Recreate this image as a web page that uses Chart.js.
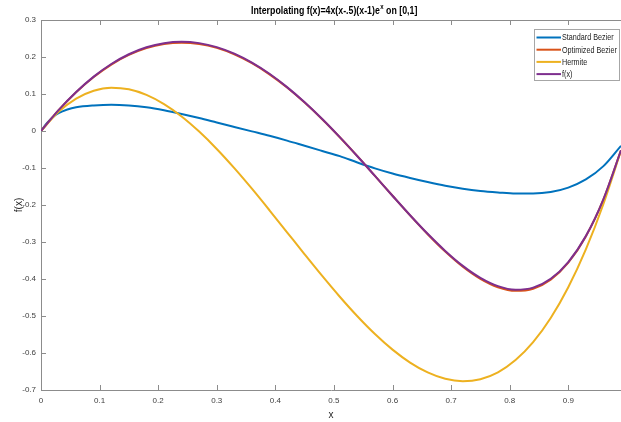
<!DOCTYPE html>
<html><head><meta charset="utf-8">
<script src="https://cdn.jsdelivr.net/npm/chart.js@4.4.1/dist/chart.umd.min.js"></script>
<style>html,body{margin:0;padding:0;background:#fff}#wrap{width:621px;height:422px;position:relative}</style>
</head><body><div id="wrap"><canvas id="c" width="621" height="422"></canvas></div>
<script>
// ---- data ----
const xs = [0, 0.03, 0.06, 0.09, 0.12, 0.15, 0.18, 0.21, 0.24, 0.27, 0.30, 0.33, 0.36, 0.39, 0.42, 0.45, 0.48,
            0.51, 0.54, 0.57, 0.60, 0.63, 0.66, 0.69, 0.72, 0.75, 0.78, 0.81, 0.84, 0.87, 0.90, 0.93, 0.96, 0.99];
const bezierXs = [0, 0.01, 0.02, 0.03, 0.045, 0.06, 0.09, 0.12, 0.15, 0.18, 0.21, 0.24, 0.27, 0.30, 0.33, 0.36,
            0.39, 0.42, 0.45, 0.48, 0.51, 0.54, 0.57, 0.60, 0.63, 0.66, 0.69, 0.72, 0.75, 0.78, 0.81, 0.84,
            0.87, 0.90, 0.93, 0.96, 0.99];
const standardBezier = [0, 0.021, 0.037, 0.048, 0.058, 0.064, 0.069, 0.071, 0.069, 0.064, 0.056, 0.046, 0.035,
            0.023, 0.011, -0.001, -0.013, -0.026, -0.040, -0.054, -0.068, -0.085, -0.101, -0.115, -0.127,
            -0.138, -0.148, -0.156, -0.162, -0.166, -0.169, -0.169, -0.165, -0.153, -0.131, -0.095, -0.040];
const optimizedBezier = [0, 0.0560, 0.1046, 0.1458, 0.1795, 0.2055, 0.2241, 0.2351, 0.2388, 0.2352, 0.2246,
            0.2071, 0.1832, 0.1532, 0.1175, 0.0768, 0.0318, -0.0168, -0.0680, -0.1212, -0.1750, -0.2282,
            -0.2790, -0.3258, -0.3668, -0.3996, -0.4222, -0.4320, -0.4262, -0.4019, -0.3560, -0.2850, -0.1850, -0.0522];
const hermite = [0, 0.0517, 0.0876, 0.1090, 0.1170, 0.1128, 0.0976, 0.0727, 0.0393, -0.0016, -0.0485, -0.1004,
            -0.1560, -0.2142, -0.2737, -0.3333, -0.3918, -0.4480, -0.5007, -0.5488, -0.5909, -0.6259, -0.6526,
            -0.6698, -0.6762, -0.6708, -0.6522, -0.6192, -0.5708, -0.5055, -0.4224, -0.3200, -0.1973, -0.0531];
const fx = [0, 0.0564, 0.1054, 0.1470, 0.1810, 0.2074, 0.2262, 0.2374, 0.2412, 0.2375, 0.2268, 0.2091, 0.1849,
            0.1546, 0.1186, 0.0776, 0.0323, -0.0167, -0.0682, -0.1214, -0.1749, -0.2276, -0.2779, -0.3241,
            -0.3645, -0.3969, -0.4193, -0.4290, -0.4234, -0.3995, -0.3542, -0.2838, -0.1845, -0.0522];
const xTicks = [0, 0.1, 0.2, 0.3, 0.4, 0.5, 0.6, 0.7, 0.8, 0.9];
const yTicks = [-0.7, -0.6, -0.5, -0.4, -0.3, -0.2, -0.1, 0, 0.1, 0.2, 0.3];
const seriesNames = ['Standard Bezier', 'Optimized Bezier', 'Hermite', 'f(x)'];
const seriesColors = ['#0072BD', '#D95319', '#EDB120', '#7E2F8E'];
const titleMain = 'Interpolating f(x)=4x(x-.5)(x-1)e';
const titleSup = 'x';
const titleTail = ' on [0,1]';

const FONT = '"Liberation Sans",Arial,sans-serif';
Chart.defaults.font.family = FONT;
const AXIS = '#8c8c8c';
const TXT = '#404040';
const SQ = 0.8; // horizontal squeeze for the narrow MATLAB-like text

const seriesX = [bezierXs, xs, xs, xs];
const allSeries = [standardBezier, optimizedBezier, hermite, fx];
const datasets = allSeries.map((arr, i) => ({
  label: seriesNames[i],
  data: arr.map((y, j) => ({x: seriesX[i][j], y: y})),
  borderColor: seriesColors[i],
  backgroundColor: seriesColors[i],
  borderWidth: 2,
  pointRadius: 0,
  fill: false,
  cubicInterpolationMode: 'monotone',
  order: 4 - i
}));

function narrowText(ctx, text, x, y, sx) {
  ctx.save(); ctx.translate(x, y); ctx.scale(sx, 1); ctx.fillText(text, 0, 0); ctx.restore();
  return ctx.measureText(text).width * sx;
}

const decorPlugin = {
  id: 'decor',
  afterDraw(chart) {
    const ctx = chart.ctx, a = chart.chartArea;
    const xs_ = chart.scales.x, ys_ = chart.scales.y;
    ctx.save();
    // top border
    ctx.strokeStyle = AXIS; ctx.lineWidth = 1;
    ctx.beginPath(); ctx.moveTo(a.left, a.top + 0.5); ctx.lineTo(a.right, a.top + 0.5); ctx.stroke();
    // inward ticks
    const tl = 5;
    ctx.beginPath();
    xs_.ticks.forEach(t => {
      const p = Math.round(xs_.getPixelForValue(t.value)) + 0.5;
      ctx.moveTo(p, a.bottom); ctx.lineTo(p, a.bottom - tl);
      ctx.moveTo(p, a.top); ctx.lineTo(p, a.top + tl);
    });
    ys_.ticks.forEach(t => {
      const p = Math.round(ys_.getPixelForValue(t.value)) + 0.5;
      ctx.moveTo(a.left, p); ctx.lineTo(a.left + tl, p);
    });
    ctx.stroke();
    // title with superscript
    const cx = (a.left + xs_.getPixelForValue(1.0)) / 2;
    const fMain = 'bold 11px ' + FONT, fSup = 'bold 7.5px ' + FONT;
    ctx.font = fMain; const w1 = ctx.measureText(titleMain).width * SQ, w3 = ctx.measureText(titleTail).width * SQ;
    ctx.font = fSup; const w2 = ctx.measureText(titleSup).width * SQ;
    let x0 = cx - (w1 + w2 + w3) / 2;
    const base = 14;
    ctx.fillStyle = '#000'; ctx.textBaseline = 'alphabetic'; ctx.textAlign = 'left';
    ctx.font = fMain; narrowText(ctx, titleMain, x0, base, SQ);
    ctx.font = fSup; narrowText(ctx, titleSup, x0 + w1 + 0.5, base - 5, SQ);
    ctx.font = fMain; narrowText(ctx, titleTail, x0 + w1 + w2 + 0.5, base, SQ);
    // legend
    const lx = 534.5, ly = 29.5, lw = 85, lh = 51;
    ctx.fillStyle = '#fff'; ctx.fillRect(lx, ly, lw, lh);
    ctx.strokeStyle = '#a6a6a6'; ctx.lineWidth = 1; ctx.strokeRect(lx, ly, lw, lh);
    ctx.font = '9px ' + FONT; ctx.textBaseline = 'middle';
    chart.data.datasets.forEach((ds, i) => {
      const y = 37.5 + i * 12.2;
      ctx.strokeStyle = ds.borderColor; ctx.lineWidth = 2;
      ctx.beginPath(); ctx.moveTo(536.5, y); ctx.lineTo(561, y); ctx.stroke();
      ctx.fillStyle = '#1a1a1a'; narrowText(ctx, ds.label, 562, y + 0.5, SQ);
    });
    ctx.restore();
  }
};

new Chart(document.getElementById('c'), {
  type: 'line',
  data: {datasets},
  options: {
    responsive: false,
    animation: false,
    layout: {padding: {top: 20, left: 0, right: 0, bottom: 0}},
    plugins: {legend: {display: false}, title: {display: false}, tooltip: {enabled: false}},
    scales: {
      x: {
        type: 'linear', min: 0, max: 0.99,
        afterBuildTicks: s => { s.ticks = xTicks.map(v => ({value: v})); },
        afterFit: s => { s.height = 32; },
        grid: {display: false, drawTicks: false},
        border: {display: true, color: AXIS, width: 1},
        ticks: {autoSkip: false, maxRotation: 0, padding: 6, color: TXT, font: {size: 8},
                callback: v => String(v)},
        title: {display: true, text: 'x', color: '#262626', font: {size: 10}, padding: {top: 0, bottom: 1}}
      },
      y: {
        type: 'linear', min: -0.7, max: 0.3,
        afterBuildTicks: s => { s.ticks = yTicks.map(v => ({value: v})); },
        afterFit: s => { s.width = 41; },
        grid: {display: false, drawTicks: false},
        border: {display: true, color: AXIS, width: 1},
        ticks: {padding: 5, color: TXT, font: {size: 8}, callback: v => String(v)},
        title: {display: true, text: 'f(x)', color: '#262626', font: {size: 10}, padding: {top: 13, bottom: 0}}
      }
    }
  },
  plugins: [decorPlugin]
});
</script>
</body></html>
